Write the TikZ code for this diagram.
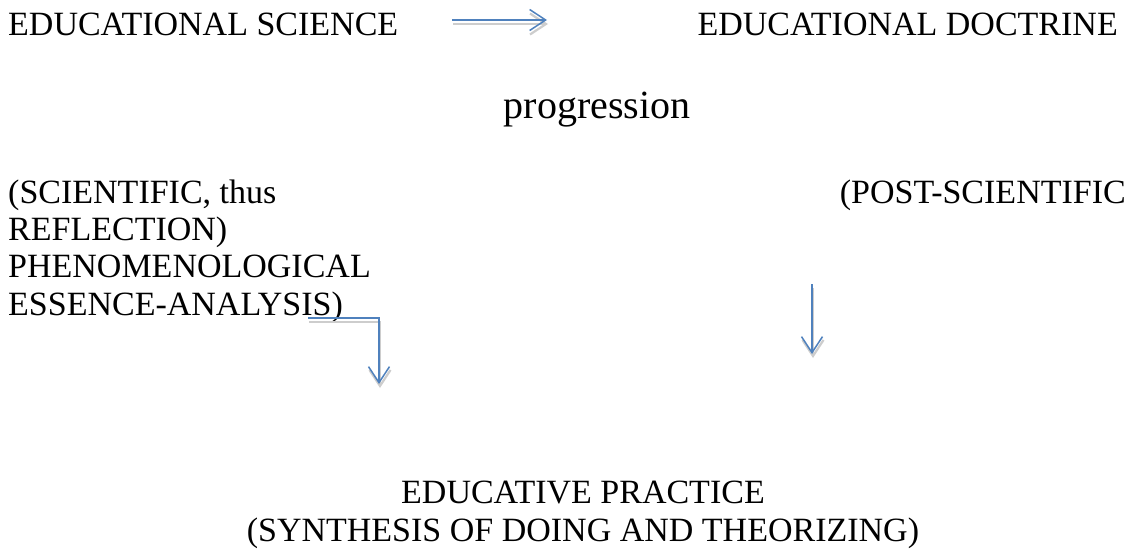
\documentclass[tikz,border=0pt]{standalone}
\usepackage{fontspec}
\setmainfont{Liberation Serif}
\usetikzlibrary{arrows.meta}
\definecolor{arrowblue}{RGB}{79,129,189}
\definecolor{shadowgray}{RGB}{205,205,205}

\begin{document}
\begin{tikzpicture}[x=1pt,y=-1pt,
        label/.style={inner sep=0pt,font=\fontsize{34}{38}\selectfont},
        flow/.style={arrowblue,line width=1.5pt,-{Straight Barb[length=16pt,width=21pt]}},
        flowshadow/.style={shadowgray,line width=2.2pt,-{Straight Barb[length=16pt,width=21pt]}},
        drop/.style={xshift=1pt,yshift=-4pt}]
        \useasboundingbox (0,0) rectangle (1128,552);

        % horní řádek
        \node[label,anchor=base west] (science) at (8,35) {EDUCATIONAL SCIENCE};
        \node[label,anchor=base east] (doctrine) at (1118,35) {EDUCATIONAL DOCTRINE};
        \node[label,anchor=base,font=\fontsize{40}{44}\selectfont] (progression) at (597,118) {progression};

        % levý sloupec
        \node[label,anchor=base west] (scientific) at (8,203) {(SCIENTIFIC, thus};
        \node[label,anchor=base west] (reflection) at (8,240) {REFLECTION)};
        \node[label,anchor=base west] (phenomenological) at (8,277) {PHENOMENOLOGICAL};
        \node[label,anchor=base west] (essence) at (8,315) {ESSENCE-ANALYSIS)};

        % pravý sloupec
        \node[label,anchor=base east] (postscientific) at (1126,203) {(POST-SCIENTIFIC};

        % praxe
        \node[label,anchor=base] (practice) at (583,503) {EDUCATIVE PRACTICE};
        \node[label,anchor=base] (synthesis) at (583,541) {(SYNTHESIS OF DOING AND THEORIZING)};

        % konce šipek
        \coordinate (sciencetail) at (452,20);
        \coordinate (doctrinetip) at (547,20);
        \coordinate (essencetail) at (308,318);
        \coordinate (essencetip) at (379,384);
        \coordinate (posttail) at (812,284);
        \coordinate (posttip) at (812,354);

        % stíny
        \draw[flowshadow] ([drop]sciencetail) -- ([drop]doctrinetip);
        \draw[flowshadow] ([drop]essencetail) -| ([drop]essencetip);
        \draw[flowshadow] ([drop]posttail) -- ([drop]posttip);

        % šipky
        \draw[flow] (sciencetail) -- (doctrinetip);
        \draw[flow] (essencetail) -| (essencetip);
        \draw[flow] (posttail) -- (posttip);
\end{tikzpicture}
\end{document}
